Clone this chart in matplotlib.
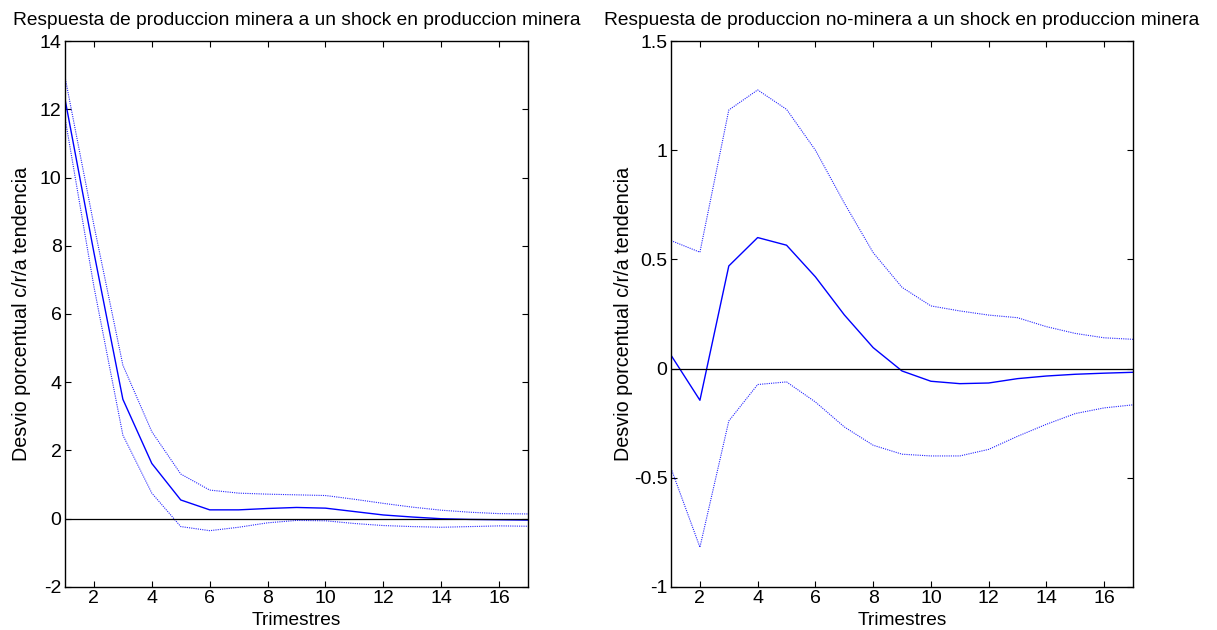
import numpy as np
import matplotlib
matplotlib.use('Agg')
import matplotlib.pyplot as plt

plt.rcParams['font.family'] = ['Liberation Sans', 'DejaVu Sans']

# Trimestres (horizonte de la respuesta)
trimestres = list(range(1, 18))

# Respuesta de produccion minera
min_centro = [12.3, 7.8, 3.5, 1.62, 0.55, 0.26, 0.26, 0.3, 0.33, 0.31, 0.21, 0.11, 0.05,
              0.0, -0.02, -0.03, -0.04]
min_sup = [12.95, 8.6, 4.5, 2.55, 1.31, 0.84, 0.75, 0.72, 0.7, 0.68, 0.57, 0.45, 0.34,
           0.25, 0.19, 0.15, 0.14]
min_inf = [11.75, 6.8, 2.45, 0.75, -0.23, -0.35, -0.25, -0.12, -0.05, -0.06, -0.14, -0.2,
           -0.23, -0.25, -0.23, -0.21, -0.22]

# Respuesta de produccion no-minera
nomin_centro = [0.061, -0.145, 0.47, 0.60, 0.565, 0.42, 0.246, 0.096, -0.011, -0.058,
                -0.069, -0.066, -0.046, -0.034, -0.026, -0.021, -0.017]
nomin_sup = [0.586, 0.533, 1.184, 1.276, 1.187, 1.0, 0.758, 0.531, 0.372, 0.287, 0.264,
             0.245, 0.233, 0.192, 0.161, 0.141, 0.134]
nomin_inf = [-0.457, -0.818, -0.24, -0.073, -0.061, -0.153, -0.267, -0.351, -0.392, -0.40,
             -0.40, -0.37, -0.31, -0.255, -0.206, -0.18, -0.166]

titulos = ['Respuesta de produccion minera a un shock en produccion minera',
           'Respuesta de produccion no-minera a un shock en produccion minera']

fig = plt.figure(figsize=(12.17, 6.3), dpi=100)
ax1 = fig.add_axes([0.0534, 0.0683, 0.3805, 0.8666])
ax2 = fig.add_axes([0.5514, 0.0683, 0.3796, 0.8666])


def dibujar(ax, centro, sup, inf, titulo, ylim, yticks, ylabels, ypad):
    ax.plot(trimestres, centro, color='#0000ff', lw=1.0)
    ax.plot(trimestres, sup, color='#0000ff', lw=0.8, ls=(0, (1, 1)), alpha=0.85)
    ax.plot(trimestres, inf, color='#0000ff', lw=0.8, ls=(0, (1, 1)), alpha=0.85)
    ax.plot([trimestres[0], trimestres[-1]], [0, 0], color='black', lw=0.9)
    ax.set_xlim(1, 17)
    ax.set_ylim(*ylim)
    ax.set_xticks(range(2, 17, 2))
    ax.set_yticks(yticks)
    ax.set_yticklabels(ylabels)
    ax.tick_params(direction='in', top=True, right=True, length=4, width=0.8,
                   labelsize=14, pad=2.5)
    for s in ax.spines.values():
        s.set_linewidth(1.0)
    ax.set_title(titulo, fontsize=13.8, pad=11.5)
    ax.set_xlabel('Trimestres', fontsize=13.8, labelpad=3)
    ax.set_ylabel('Desvio porcentual c/r/a tendencia', fontsize=14.2, labelpad=ypad)


dibujar(ax1, min_centro, min_sup, min_inf, titulos[0], (-2, 14),
        list(range(-2, 15, 2)), [str(v) for v in range(-2, 15, 2)], 6)
dibujar(ax2, nomin_centro, nomin_sup, nomin_inf, titulos[1], (-1, 1.5),
        [-1, -0.5, 0, 0.5, 1, 1.5], ['-1', '-0.5', '0', '0.5', '1', '1.5'], 1)

fig.savefig('out.png', dpi=100)
